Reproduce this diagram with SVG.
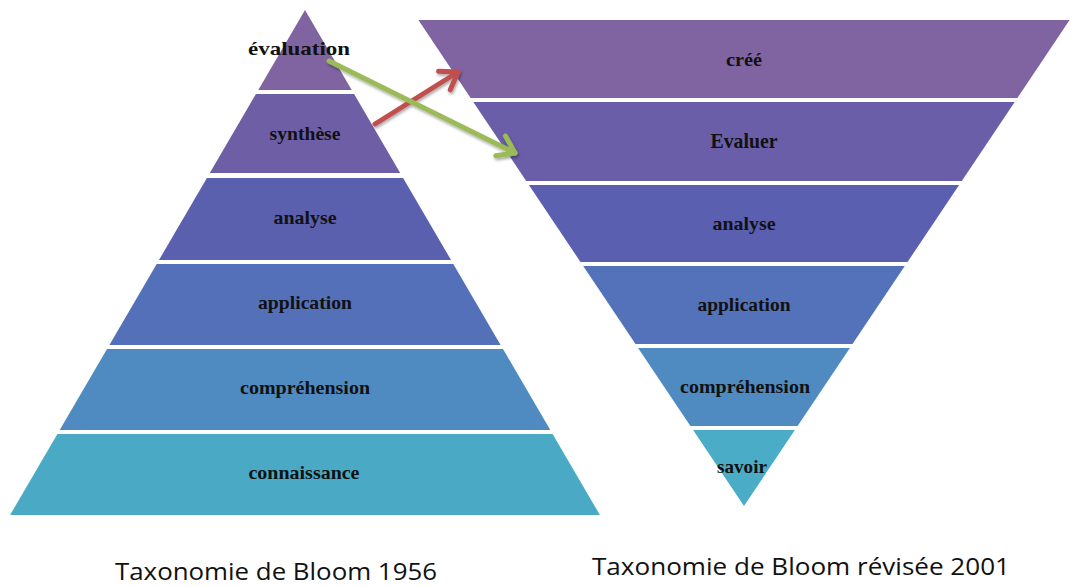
<svg xmlns="http://www.w3.org/2000/svg" width="1071" height="587" viewBox="0 0 1071 587">
<style>
.lbl{font-family:"Liberation Serif","DejaVu Serif",serif;font-weight:bold;font-size:19px;fill:#111;text-anchor:middle}
.ttl{font-family:"Open Sans","Liberation Sans",sans-serif;font-size:24px;fill:#111;text-anchor:middle}
.arr{fill:none;stroke-width:5;stroke-linecap:round}
</style>
<defs>
<filter id="sh" x="-20%" y="-20%" width="140%" height="140%">
<feGaussianBlur in="SourceAlpha" stdDeviation="1.5"/>
<feOffset dx="1" dy="2" result="b"/>
<feComponentTransfer><feFuncA type="linear" slope="0.35"/></feComponentTransfer>
<feMerge><feMergeNode/><feMergeNode in="SourceGraphic"/></feMerge>
</filter>
<marker id="mr" markerUnits="userSpaceOnUse" markerWidth="30" markerHeight="30" viewBox="0 0 30 30" refX="25" refY="15" orient="auto">
<path d="M9,4 L25,15 L9,26" fill="none" stroke="#C0504D" stroke-width="5" stroke-linecap="round" stroke-linejoin="round"/>
</marker>
<marker id="mg" markerUnits="userSpaceOnUse" markerWidth="30" markerHeight="30" viewBox="0 0 30 30" refX="25" refY="15" orient="auto">
<path d="M9,4 L25,15 L9,26" fill="none" stroke="#9BBB59" stroke-width="5" stroke-linecap="round" stroke-linejoin="round"/>
</marker>
</defs>
<rect width="1071" height="587" fill="#fff"/>
<g id="pyramide-1956">
<g id="l-evaluation"><polygon points="305,10 351.7,90 258.3,90" fill="#8064A2"/><text class="lbl" x="299" y="55" textLength="102" lengthAdjust="spacingAndGlyphs">évaluation</text></g>
<g id="l-synthese"><polygon points="255.9,94 354.1,94 400.2,173 209.8,173" fill="#6E5EA6"/><text class="lbl" x="305" y="140" textLength="71" lengthAdjust="spacingAndGlyphs">synthèse</text></g>
<g id="l-analyse"><polygon points="206.9,178 403.1,178 451,260 159,260" fill="#5A5FAE"/><text class="lbl" x="305" y="224" textLength="63" lengthAdjust="spacingAndGlyphs">analyse</text></g>
<g id="l-application"><polygon points="156.7,264 453.3,264 500.6,345 109.4,345" fill="#5470B9"/><text class="lbl" x="305" y="309" textLength="94" lengthAdjust="spacingAndGlyphs">application</text></g>
<g id="l-comprehension"><polygon points="107,349 503,349 550.3,430 59.7,430" fill="#4F8BC0"/><text class="lbl" x="305" y="394" textLength="130" lengthAdjust="spacingAndGlyphs">compréhension</text></g>
<g id="l-connaissance"><polygon points="57.4,434 552.6,434 599.9,515 10.1,515" fill="#4AAAC6"/><text class="lbl" x="304" y="479" textLength="111" lengthAdjust="spacingAndGlyphs">connaissance</text></g>
</g>
<g id="pyramide-2001">
<g id="r-cree"><polygon points="418.4,20 1069.6,20 1017.4,98 470.6,98" fill="#8064A2"/><text class="lbl" x="744" y="66" textLength="36" lengthAdjust="spacingAndGlyphs">créé</text></g>
<g id="r-evaluer"><polygon points="473.3,102 1014.7,102 961.8,181 526.2,181" fill="#6B5EA8"/><text class="lbl" x="744" y="148" style="font-size:21px" textLength="67" lengthAdjust="spacingAndGlyphs">Evaluer</text></g>
<g id="r-analyse"><polygon points="528.9,185 959.1,185 907.5,262 580.5,262" fill="#5A5FB0"/><text class="lbl" x="744" y="230" textLength="63" lengthAdjust="spacingAndGlyphs">analyse</text></g>
<g id="r-application"><polygon points="583.2,266 904.8,266 852.5,344 635.5,344" fill="#5472BA"/><text class="lbl" x="744" y="311" textLength="93" lengthAdjust="spacingAndGlyphs">application</text></g>
<g id="r-comprehension"><polygon points="638.1,348 849.9,348 797.6,426 690.4,426" fill="#4F8BC0"/><text class="lbl" x="745" y="393" textLength="130" lengthAdjust="spacingAndGlyphs">compréhension</text></g>
<g id="r-savoir"><polygon points="693.1,430 794.9,430 744,506" fill="#4AACC6"/><text class="lbl" x="742" y="473" textLength="50" lengthAdjust="spacingAndGlyphs">savoir</text></g>
</g>
<g id="connecteurs" filter="url(#sh)">
<line class="arr" x1="375" y1="124" x2="458" y2="72" stroke="#C0504D" marker-end="url(#mr)"/>
<line class="arr" x1="329" y1="61" x2="515" y2="153" stroke="#9BBB59" marker-end="url(#mg)"/>
</g>
<g id="titres">
<text class="ttl" x="276" y="580" textLength="322" lengthAdjust="spacingAndGlyphs">Taxonomie de Bloom 1956</text>
<text class="ttl" x="801" y="575" textLength="418" lengthAdjust="spacingAndGlyphs">Taxonomie de Bloom révisée 2001</text>
</g>
</svg>
